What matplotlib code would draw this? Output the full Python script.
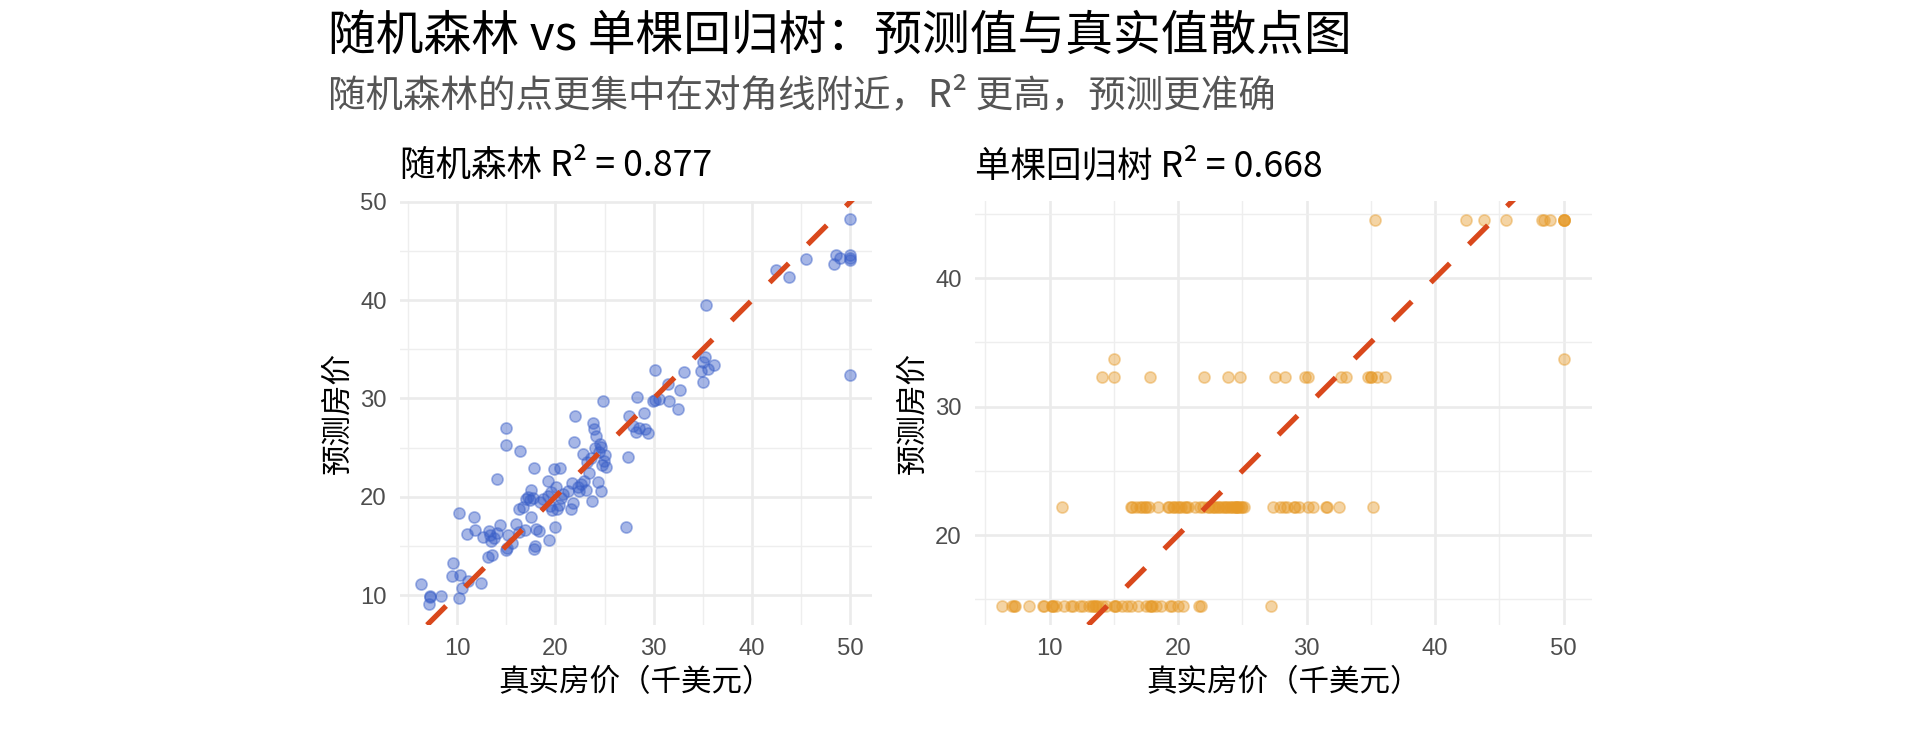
import matplotlib
matplotlib.use("Agg")
import matplotlib.pyplot as plt

# 测试集：真实房价、随机森林预测、单棵回归树预测（千美元）
true_price = [6.3, 7.1, 7.2, 7.3, 8.4, 9.5, 9.6, 10.2, 10.2, 10.3, 10.5, 11.0, 11.1, 11.7,
              11.8, 12.4, 12.6, 13.1, 13.3, 13.4, 13.5, 13.6, 13.8, 14.1, 14.1, 14.4, 15.0,
              15.0, 15.0, 15.1, 15.2, 15.6, 16.0, 16.3, 16.3, 16.4, 16.7, 16.9, 17.0, 17.2,
              17.4, 17.5, 17.5, 17.7, 17.8, 17.8, 17.9, 18.0, 18.3, 18.4, 18.7, 19.2, 19.3,
              19.4, 19.5, 19.6, 19.7, 19.9, 20.0, 20.1, 20.2, 20.4, 20.5, 20.6, 20.8, 21.3,
              21.6, 21.8, 21.7, 21.9, 22.0, 22.3, 22.4, 22.6, 22.8, 22.9, 23.1, 23.2, 23.4,
              23.6, 23.7, 23.9, 23.8, 24.0, 24.1, 24.3, 24.4, 24.5, 24.6, 24.6, 24.7, 24.8,
              24.9, 25.0, 25.1, 27.2, 27.4, 27.5, 27.9, 28.2, 28.3, 28.5, 29.0, 29.1, 29.4,
              29.9, 30.1, 30.1, 30.5, 31.5, 31.6, 32.5, 32.7, 33.1, 34.8, 35.0, 35.0, 35.2,
              35.3, 35.5, 36.1, 42.4, 43.8, 45.5, 48.3, 48.5, 48.9, 50.0, 50.0, 50.0, 50.0,
              50.0]
rf_pred = [11.1, 9.1, 9.8, 9.9, 9.9, 11.9, 13.3, 9.7, 18.3, 12.0, 10.7, 16.2, 11.4, 17.9,
           16.6, 11.2, 15.9, 13.9, 16.5, 16.1, 15.5, 14.1, 15.8, 21.8, 16.3, 17.1, 27.0,
           25.3, 14.6, 14.8, 16.1, 15.3, 17.2, 16.4, 18.8, 24.6, 19.0, 16.6, 19.8, 20.0,
           19.7, 20.7, 17.9, 19.9, 22.9, 14.7, 15.0, 16.7, 16.5, 19.5, 19.8, 20.1, 21.6,
           15.6, 19.1, 20.5, 18.6, 22.8, 16.9, 21.0, 18.7, 19.2, 22.9, 19.9, 20.3, 20.6,
           18.7, 19.4, 21.4, 25.6, 28.2, 21.0, 20.6, 21.3, 24.3, 21.6, 20.7, 23.5, 22.4,
           23.9, 19.6, 26.9, 27.5, 25.0, 26.2, 21.5, 24.5, 25.4, 25.1, 20.6, 23.2, 29.7,
           23.6, 24.2, 23.0, 16.9, 24.0, 28.2, 27.2, 26.6, 30.1, 27.0, 28.5, 26.9, 26.5,
           29.7, 32.9, 29.8, 29.9, 31.5, 29.7, 28.9, 30.9, 32.7, 32.8, 33.7, 31.7, 34.2,
           39.5, 33.0, 33.4, 43.1, 42.4, 44.2, 43.7, 44.6, 44.3, 48.2, 44.6, 44.1, 44.3,
           32.4]
tree_pred = [14.5, 14.5, 14.5, 14.5, 14.5, 14.5, 14.5, 14.5, 14.5, 14.5, 14.5, 22.2, 14.5, 14.5,
             14.5, 14.5, 14.5, 14.5, 14.5, 14.5, 14.5, 14.5, 14.5, 32.3, 14.5, 14.5, 33.7,
             32.3, 14.5, 14.5, 14.5, 14.5, 14.5, 14.5, 22.2, 22.2, 22.2, 14.5, 22.2, 22.2,
             22.2, 22.2, 14.5, 22.2, 32.3, 14.5, 14.5, 14.5, 14.5, 22.2, 14.5, 22.2, 22.2,
             14.5, 14.5, 22.2, 22.2, 22.2, 14.5, 22.2, 22.2, 14.5, 22.2, 22.2, 22.2, 22.2,
             14.5, 14.5, 22.2, 22.2, 32.3, 22.2, 22.2, 22.2, 22.2, 22.2, 22.2, 22.2, 22.2,
             22.2, 22.2, 32.3, 22.2, 22.2, 22.2, 22.2, 22.2, 22.2, 22.2, 22.2, 22.2, 32.3,
             22.2, 22.2, 22.2, 14.5, 22.2, 32.3, 22.2, 22.2, 32.3, 22.2, 22.2, 22.2, 22.2,
             32.3, 32.3, 22.2, 22.2, 22.2, 22.2, 22.2, 32.3, 32.3, 32.3, 32.3, 32.3, 22.2,
             44.5, 32.3, 32.3, 44.5, 44.5, 44.5, 44.5, 44.5, 44.5, 44.5, 44.5, 44.5, 44.5,
             33.7]

r2_rf = 0.877
r2_tree = 0.668

# ² 不在 CJK 字体里时退到 Noto Sans
CJK = ['Noto Sans CJK SC', 'Noto Sans', 'DejaVu Sans']
W, H = 1920, 729

fig = plt.figure(figsize=(9.6, 3.645), dpi=200)
fig.patch.set_facecolor('white')


def px_axes(x0, y0, x1, y1):
    # 以像素给出面板位置（y 从上往下）
    return fig.add_axes([x0 / W, 1 - y1 / H, (x1 - x0) / W, (y1 - y0) / H])


def style_panel(ax, xlim, ylim, yticks, title):
    ax.set_xlim(*xlim)
    ax.set_ylim(*ylim)
    ax.set_xticks([10, 20, 30, 40, 50])
    ax.set_yticks(yticks)
    ax.set_xticks([5, 15, 25, 35, 45], minor=True)
    ax.set_yticks([v for v in [15, 25, 35, 45] if ylim[0] < v < ylim[1]], minor=True)
    ax.grid(which='major', color='#EBEBEB', linewidth=0.95)
    ax.grid(which='minor', color='#EEEEEE', linewidth=0.5)
    ax.set_axisbelow(True)
    for s in ax.spines.values():
        s.set_visible(False)
    ax.tick_params(which='both', length=0, pad=4.8, labelsize=8.6, labelcolor='#4D4D4D')
    for lab in ax.get_xticklabels() + ax.get_yticklabels():
        lab.set_fontfamily('Liberation Sans')
    ax.set_xlabel('真实房价（千美元）', family=CJK, fontsize=11, labelpad=2.5)
    ax.set_ylabel('预测房价', family=CJK, fontsize=11, labelpad=2.5)
    ax.set_title(title, family=CJK, fontsize=12.8, loc='left', pad=9)


def diagonal(ax, lo, hi):
    start = max(lo)
    ax.plot([start, hi], [start, hi], color='#D9481C', linewidth=1.9,
            dashes=(5.1, 5.1), solid_capstyle='butt', dash_capstyle='butt', zorder=3)


# 左：随机森林
ax1 = px_axes(400, 201, 872, 625)
ax1.scatter(true_price, rf_pred, s=16, color='#3A5FC8', alpha=0.45,
            linewidths=0.6, zorder=2)
xl1, yl1 = (4.2, 52.2), (6.95, 50.08)
diagonal(ax1, (xl1[0], yl1[0]), 53)
style_panel(ax1, xl1, yl1, [10, 20, 30, 40, 50], f'随机森林 R² = {r2_rf:.3f}')

# 右：单棵回归树
ax2 = px_axes(975, 201, 1592, 625)
ax2.scatter(true_price, tree_pred, s=16, color='#E69A28', alpha=0.42,
            linewidths=0.6, zorder=2)
xl2, yl2 = (4.2, 52.2), (13.0, 46.0)
diagonal(ax2, (xl2[0], yl2[0]), 53)
style_panel(ax2, xl2, yl2, [20, 30, 40], f'单棵回归树 R² = {r2_tree:.3f}')

fig.text(328 / W, 1 - 36 / H, '随机森林 vs 单棵回归树：预测值与真实值散点图',
         family=CJK, fontsize=17.2, va='center', ha='left', color='black')
fig.text(328 / W, 1 - 96 / H, '随机森林的点更集中在对角线附近，R² 更高，预测更准确',
         family=CJK, fontsize=13.5, va='center', ha='left', color='#555555')

fig.savefig('out.png', dpi=200, facecolor='white')
